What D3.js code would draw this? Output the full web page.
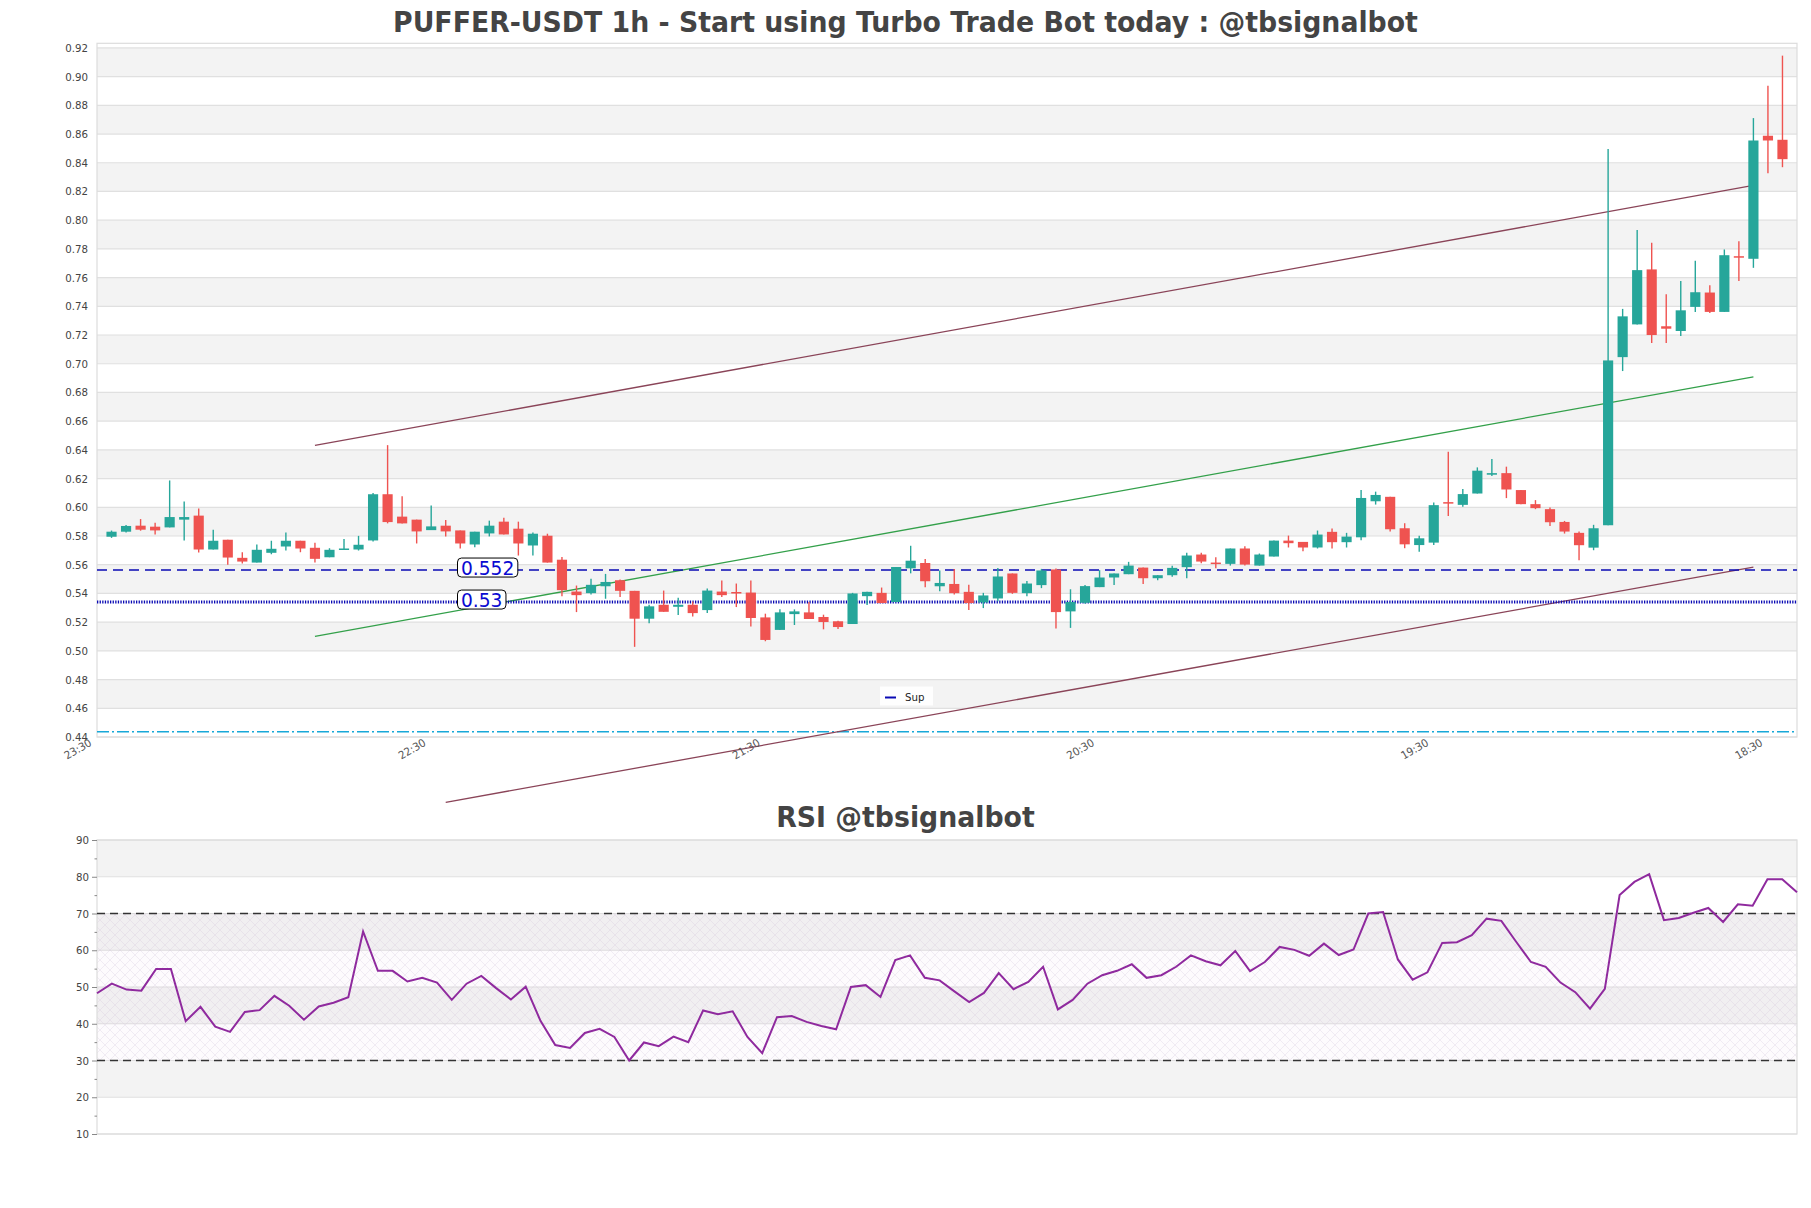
<!DOCTYPE html>
<html><head><meta charset="utf-8">
<script src="https://cdn.jsdelivr.net/npm/d3@7"></script>
<style>body{margin:0;background:#fff}svg{display:block}text{font-family:"DejaVu Sans",sans-serif}</style>
</head><body><svg id="c" width="1811" height="1208"></svg>
<script>
// ---------- data ----------
const opens=[0.5795,0.5830,0.5872,0.5865,0.5860,0.5914,0.5942,0.5706,0.5774,0.5648,0.5615,0.5683,0.5727,0.5767,0.5718,0.5652,0.5706,0.5706,0.5769,0.6091,0.5935,0.5914,0.5841,0.5872,0.5839,0.5741,0.5818,0.5900,0.5851,0.5734,0.5802,0.5635,0.5413,0.5402,0.5450,0.5492,0.5418,0.5224,0.5321,0.5307,0.5321,0.5284,0.5413,0.5410,0.5406,0.5233,0.5146,0.5256,0.5268,0.5236,0.5206,0.5187,0.5381,0.5404,0.5340,0.5575,0.5612,0.5450,0.5466,0.5411,0.5337,0.5365,0.5539,0.5402,0.5458,0.5567,0.5275,0.5335,0.5444,0.5511,0.5534,0.5580,0.5506,0.5527,0.5583,0.5671,0.5615,0.5606,0.5713,0.5594,0.5657,0.5768,0.5759,0.5720,0.5829,0.5757,0.5791,0.6042,0.6073,0.5854,0.5737,0.5754,0.6036,0.6017,0.6096,0.6227,0.6238,0.6120,0.6022,0.5987,0.5898,0.5822,0.5719,0.5875,0.7046,0.7274,0.7657,0.7261,0.7228,0.7396,0.7496,0.7361,0.7749,0.7731,0.8588,0.8560];
const highs=[0.5838,0.5877,0.5918,0.5893,0.6187,0.6040,0.5991,0.5844,0.5774,0.5687,0.5741,0.5767,0.5825,0.5767,0.5753,0.5715,0.5780,0.5801,0.6100,0.6433,0.6077,0.5914,0.6012,0.5911,0.5839,0.5830,0.5907,0.5928,0.5900,0.5825,0.5816,0.5654,0.5455,0.5503,0.5536,0.5497,0.5418,0.5321,0.5420,0.5370,0.5344,0.5434,0.5490,0.5469,0.5490,0.5259,0.5289,0.5289,0.5340,0.5252,0.5210,0.5404,0.5411,0.5441,0.5584,0.5732,0.5640,0.5559,0.5570,0.5460,0.5404,0.5578,0.5539,0.5486,0.5571,0.5574,0.5429,0.5458,0.5562,0.5539,0.5620,0.5580,0.5527,0.5592,0.5683,0.5683,0.5652,0.5713,0.5729,0.5678,0.5768,0.5803,0.5759,0.5838,0.5852,0.5822,0.6120,0.6109,0.6073,0.5889,0.5801,0.6034,0.6387,0.6127,0.6278,0.6336,0.6283,0.6120,0.6050,0.5999,0.5905,0.5831,0.5878,0.8495,0.7382,0.7931,0.7843,0.7484,0.7577,0.7717,0.7547,0.7796,0.7854,0.8711,0.8937,0.9146];
const lows=[0.5787,0.5825,0.5837,0.5811,0.5860,0.5769,0.5685,0.5706,0.5599,0.5608,0.5615,0.5673,0.5699,0.5687,0.5615,0.5652,0.5706,0.5699,0.5762,0.5888,0.5888,0.5748,0.5841,0.5797,0.5713,0.5722,0.5797,0.5811,0.5664,0.5664,0.5615,0.5381,0.5270,0.5393,0.5363,0.5376,0.5028,0.5192,0.5272,0.5250,0.5240,0.5263,0.5376,0.5305,0.5169,0.5067,0.5146,0.5180,0.5222,0.5150,0.5152,0.5187,0.5319,0.5333,0.5340,0.5540,0.5443,0.5416,0.5393,0.5284,0.5298,0.5346,0.5397,0.5381,0.5437,0.5155,0.5160,0.5328,0.5444,0.5458,0.5534,0.5465,0.5492,0.5516,0.5506,0.5611,0.5576,0.5594,0.5594,0.5594,0.5657,0.5720,0.5694,0.5713,0.5713,0.5720,0.5771,0.6019,0.5831,0.5715,0.5690,0.5737,0.5940,0.6003,0.6096,0.6218,0.6064,0.6022,0.5987,0.5870,0.5817,0.5631,0.5701,0.5875,0.6949,0.7274,0.7144,0.7144,0.7193,0.7361,0.7354,0.7361,0.7577,0.7668,0.8327,0.8369];
const closes=[0.5830,0.5870,0.5844,0.5839,0.5932,0.5932,0.5706,0.5767,0.5650,0.5622,0.5704,0.5711,0.5767,0.5713,0.5641,0.5704,0.5713,0.5739,0.6091,0.5897,0.5888,0.5832,0.5867,0.5832,0.5748,0.5830,0.5872,0.5811,0.5748,0.5816,0.5615,0.5423,0.5388,0.5460,0.5480,0.5418,0.5224,0.5310,0.5272,0.5321,0.5263,0.5420,0.5388,0.5400,0.5229,0.5076,0.5268,0.5275,0.5222,0.5201,0.5166,0.5400,0.5411,0.5333,0.5584,0.5628,0.5485,0.5473,0.5402,0.5333,0.5386,0.5518,0.5404,0.5469,0.5560,0.5270,0.5340,0.5451,0.5511,0.5539,0.5594,0.5506,0.5527,0.5578,0.5664,0.5622,0.5611,0.5713,0.5601,0.5671,0.5768,0.5750,0.5720,0.5810,0.5757,0.5796,0.6065,0.6086,0.5847,0.5742,0.5784,0.6015,0.6027,0.6092,0.6255,0.6238,0.6124,0.6022,0.5994,0.5896,0.5831,0.5736,0.5854,0.7023,0.7330,0.7652,0.7200,0.7244,0.7372,0.7498,0.7361,0.7756,0.7743,0.8555,0.8555,0.8425];
const rsiValues=[48.3,50.9,49.3,49.0,54.9,54.9,40.7,44.6,39.2,37.8,43.2,43.7,47.6,44.9,41.1,44.7,45.7,47.2,65.1,54.4,54.4,51.5,52.5,51.2,46.5,50.9,53.0,49.7,46.6,50.1,40.8,34.2,33.4,37.5,38.6,36.4,30.0,34.9,33.9,36.5,35.0,43.6,42.6,43.4,36.4,32.0,41.8,42.1,40.5,39.4,38.5,50.0,50.5,47.3,57.3,58.6,52.5,51.8,48.8,45.9,48.4,53.8,49.4,51.4,55.5,43.9,46.5,50.9,53.2,54.4,56.2,52.5,53.2,55.5,58.6,57.0,55.9,59.8,54.3,56.8,60.9,60.1,58.5,61.8,58.7,60.2,70.0,70.4,57.5,52.0,54.0,62.0,62.2,64.1,68.6,68.0,62.3,56.8,55.5,51.2,48.6,44.1,49.5,75.0,78.6,80.7,68.2,68.8,70.2,71.5,67.7,72.5,72.1,79.3,79.3,75.8];
const xTickIndex=[-1,22,45,68,91,114];
const xTickLabels=["23:30","22:30","21:30","20:30","19:30","18:30"];
const priceTicks=[0.44,0.46,0.48,0.50,0.52,0.54,0.56,0.58,0.60,0.62,0.64,0.66,0.68,0.70,0.72,0.74,0.76,0.78,0.80,0.82,0.84,0.86,0.88,0.90,0.92];
const rsiTicks=[10,20,30,40,50,60,70,80,90];
const rsiMinorTicks=[15,25,35,45,55,65,75,85];
const supLevels=[0.5563,0.5340];
const supLabels=["0.552","0.53"];
const lowLevel=0.4437;
const upperLine=[[14,0.6431],[113,0.8242]];
const midLine=[[14,0.5101],[113,0.6909]];
const lowerLine=[[23,0.3945],[113,0.5583]];
const title="PUFFER-USDT 1h - Start using Turbo Trade Bot today : @tbsignalbot";
const rsiTitle="RSI @tbsignalbot";

// ---------- layout ----------
const svg=d3.select("#c");
const L=97,R=1797,T=43.3,B=737;
const RT=840,RB=1134;
const n=opens.length;
const x=d3.scaleLinear().domain([-1,n]).range([L,R]);
const y=d3.scaleLinear().domain([0.44,0.9232]).range([B,T]);
const xr=d3.scaleLinear().domain([0,n-1]).range([L,R]);
const yr=d3.scaleLinear().domain([10,90]).range([RB,RT]);
const GREEN="#26a69a",RED="#ef5350";

const defs=svg.append("defs");
const pat=defs.append("pattern").attr("id","hatch").attr("patternUnits","userSpaceOnUse").attr("width",10).attr("height",10);
pat.append("path").attr("d","M0,0L10,10M10,0L0,10").attr("stroke","#d2c4da").attr("stroke-width",0.5).attr("fill","none");

// ---------- main panel ----------
const main=svg.append("g");
main.append("rect").attr("x",L).attr("y",T).attr("width",R-L).attr("height",B-T).attr("fill","#fff");
const bands=priceTicks.slice(0,-1).map((v,i)=>[v,priceTicks[i+1],i]).filter(d=>d[2]%2===1);
main.selectAll(".band").data(bands).join("rect").attr("x",L).attr("width",R-L)
  .attr("y",d=>y(d[1])).attr("height",d=>y(d[0])-y(d[1])).attr("fill","#f3f3f3");
main.selectAll(".grid").data(priceTicks).join("line").attr("x1",L).attr("x2",R)
  .attr("y1",d=>y(d)).attr("y2",d=>y(d)).attr("stroke","#e0e0e0").attr("stroke-width",1.2);
main.append("rect").attr("x",L).attr("y",T).attr("width",R-L).attr("height",B-T).attr("fill","none").attr("stroke","#dcdcdc").attr("stroke-width",1.2);

// low level dash-dot
main.append("line").attr("x1",L).attr("x2",R).attr("y1",y(lowLevel)).attr("y2",y(lowLevel))
  .attr("stroke","#17a8d8").attr("stroke-width",1.5).attr("stroke-dasharray","12,3,2,3");

// trend lines
const tl=d3.line().x(d=>x(d[0])).y(d=>y(d[1]));
main.append("path").attr("d",tl(upperLine)).attr("stroke","#8a4458").attr("stroke-width",1.3).attr("fill","none");
main.append("path").attr("d",tl(midLine)).attr("stroke","#33a04a").attr("stroke-width",1.3).attr("fill","none");
main.append("path").attr("d",tl(lowerLine)).attr("stroke","#8a4458").attr("stroke-width",1.3).attr("fill","none");

// support levels
main.append("line").attr("x1",L).attr("x2",R).attr("y1",y(supLevels[0])).attr("y2",y(supLevels[0]))
  .attr("stroke","#0a0ab4").attr("stroke-width",1.5).attr("stroke-dasharray","10,6");
main.append("line").attr("x1",L).attr("x2",R).attr("y1",y(supLevels[1])).attr("y2",y(supLevels[1]))
  .attr("stroke","#0a0ab4").attr("stroke-width",3).attr("stroke-dasharray","1.3,1.3");

// candles
const bw=(x(1)-x(0))*0.7;
const idx=d3.range(n);
const cg=main.append("g");
cg.selectAll(".wick").data(idx).join("line").attr("x1",i=>x(i)).attr("x2",i=>x(i))
  .attr("y1",i=>y(highs[i])).attr("y2",i=>y(lows[i]))
  .attr("stroke",i=>closes[i]>=opens[i]?GREEN:RED).attr("stroke-width",1.4);
cg.selectAll(".body").data(idx).join("rect").attr("x",i=>x(i)-bw/2).attr("width",bw)
  .attr("y",i=>y(Math.max(opens[i],closes[i])))
  .attr("height",i=>Math.max(1.5,Math.abs(y(opens[i])-y(closes[i]))))
  .attr("fill",i=>closes[i]>=opens[i]?GREEN:RED);

// level labels
supLevels.forEach((v,i)=>{
  const g=main.append("g").attr("class","lvl");
  g.append("text").attr("class","lbl").attr("x",461).attr("y",y(v)+4.5).attr("font-size",19).attr("fill","#0a0ad2").text(supLabels[i]);
});

// legend
const lg=main.append("g");
lg.append("rect").attr("x",880).attr("y",686.5).attr("width",53).attr("height",19).attr("fill","#fff").attr("opacity",0.85);
lg.append("line").attr("x1",885).attr("x2",896).attr("y1",697.5).attr("y2",697.5).attr("stroke","#0a0ab4").attr("stroke-width",2);
lg.append("text").attr("x",905).attr("y",700.5).attr("font-size",11).attr("fill","#222").text("Sup");

// axes
const ya=main.append("g").attr("transform",`translate(${L},0)`)
  .call(d3.axisLeft(y).tickValues(priceTicks).tickFormat(d3.format(".2f")).tickSize(0).tickPadding(9));
ya.select(".domain").remove();
ya.selectAll("text").attr("font-size",11).attr("fill","#444").attr("font-family","DejaVu Sans");
const xa=main.append("g").attr("transform",`translate(0,${B})`)
  .call(d3.axisBottom(x).tickValues(xTickIndex).tickFormat((d,i)=>xTickLabels[i]).tickSize(0));
xa.select(".domain").remove();
xa.selectAll("text").attr("font-size",11).attr("fill","#555").attr("font-family","DejaVu Sans")
  .attr("text-anchor","end").attr("dy",null).attr("y",null)
  .attr("transform","translate(-5,8) rotate(-30)");

// title
svg.append("text").attr("class","ttl").attr("x",905.5).attr("y",32).attr("text-anchor","middle")
  .attr("font-size",28).attr("font-weight","bold").attr("fill","#444").text(title);

// ---------- RSI panel ----------
const rp=svg.append("g");
rp.append("rect").attr("x",L).attr("y",RT).attr("width",R-L).attr("height",RB-RT).attr("fill","#fff");
const rb=rsiTicks.slice(0,-1).map((v,i)=>[v,rsiTicks[i+1],i]).filter(d=>d[2]%2===1);
rp.selectAll(".band").data(rb).join("rect").attr("x",L).attr("width",R-L)
  .attr("y",d=>yr(d[1])).attr("height",d=>yr(d[0])-yr(d[1])).attr("fill","#f3f3f3");
rp.selectAll(".grid").data(rsiTicks).join("line").attr("x1",L).attr("x2",R)
  .attr("y1",d=>yr(d)).attr("y2",d=>yr(d)).attr("stroke","#e0e0e0").attr("stroke-width",1.2);
rp.append("rect").attr("x",L).attr("y",yr(70)).attr("width",R-L).attr("height",yr(30)-yr(70)).attr("fill","#8e2aa0").attr("opacity",0.02);
rp.append("rect").attr("x",L).attr("y",yr(70)).attr("width",R-L).attr("height",yr(30)-yr(70)).attr("fill","url(#hatch)").attr("opacity",0.6);
rp.append("rect").attr("x",L).attr("y",RT).attr("width",R-L).attr("height",RB-RT).attr("fill","none").attr("stroke","#dcdcdc").attr("stroke-width",1.2);
[70,30].forEach(v=>rp.append("line").attr("x1",L).attr("x2",R).attr("y1",yr(v)).attr("y2",yr(v))
  .attr("stroke","#333").attr("stroke-width",1.4).attr("stroke-dasharray","8,5"));
rp.append("path").datum(rsiValues).attr("d",d3.line().x((d,i)=>xr(i)).y(d=>yr(d)))
  .attr("fill","none").attr("stroke","#8f2a9e").attr("stroke-width",2);
const ra=rp.append("g").attr("transform",`translate(${L},0)`)
  .call(d3.axisLeft(yr).tickValues(rsiTicks).tickSize(5).tickPadding(3));
ra.select(".domain").remove();
ra.selectAll("line").attr("stroke","#888");
ra.selectAll("text").attr("font-size",11).attr("fill","#444").attr("font-family","DejaVu Sans");
const rm=rp.append("g").attr("transform",`translate(${L},0)`)
  .call(d3.axisLeft(yr).tickValues(rsiMinorTicks).tickSize(2.5).tickFormat(""));
rm.select(".domain").remove();
rm.selectAll("line").attr("stroke","#888");
svg.append("text").attr("class","ttl").attr("x",905.5).attr("y",827).attr("text-anchor","middle")
  .attr("font-size",28).attr("font-weight","bold").attr("fill","#444").text(rsiTitle);

// ---------- horizontal squeeze of text to match reference proportions ----------
svg.selectAll("text").each(function(){
  const w=this.getComputedTextLength();
  const s=this.classList.contains("ttl")?0.955:(this.classList.contains("lbl")?0.98:0.93);
  this.setAttribute("textLength",w*s);
  this.setAttribute("lengthAdjust","spacingAndGlyphs");
});
// level label boxes
svg.selectAll("g.lvl").each(function(){
  const t=d3.select(this).select("text").node();
  const bb=t.getBBox();
  d3.select(this).insert("rect","text").attr("x",bb.x-3.5).attr("y",bb.y+1.5).attr("width",bb.width+7).attr("height",bb.height-3)
    .attr("rx",4).attr("fill","#fff").attr("stroke","#000").attr("stroke-width",1);
});
</script></body></html>
